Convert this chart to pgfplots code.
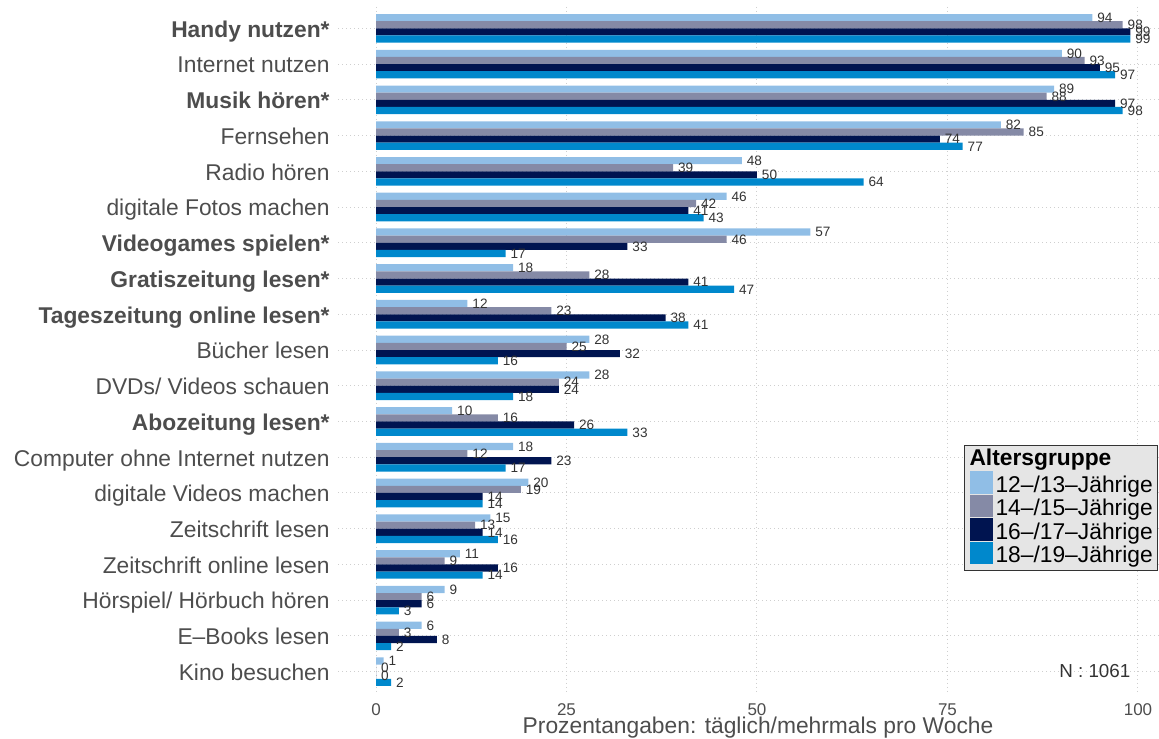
\documentclass[border=0pt]{standalone}
\usepackage{pgfplots}
\pgfplotsset{compat=1.18}
\usepackage{fontspec}
\setmainfont{Liberation Sans}
\definecolor{cA}{HTML}{90BEE6}
\definecolor{cB}{HTML}{858AA6}
\definecolor{cC}{HTML}{001450}
\definecolor{cD}{HTML}{0088CC}
\definecolor{txt}{HTML}{4D4D4D}
\definecolor{lab}{HTML}{333333}
\definecolor{gridc}{HTML}{CFCFCF}
\definecolor{legbg}{HTML}{E5E5E5}
\definecolor{legdraw}{HTML}{333333}
\begin{document}
\begin{tikzpicture}
\begin{axis}[
  at={(169pt,22.45pt)}, anchor=south west,
  scale only axis, width=410.5pt, height=343.1pt,
  xbar, bar shift=0pt, bar width=0.2,
  xmin=-4.987, xmax=102.76, ymin=-0.6, ymax=18.6, y dir=reverse,
  axis line style={draw=none},
  major tick length=0pt,
  xtick={0,25,50,75,100}, xticklabels={0,25,50,75,100},
  ytick={0,1,2,3,4,5,6,7,8,9,10,11,12,13,14,15,16,17,18},
  yticklabels={\textbf{Handy nutzen*}, Internet nutzen, \textbf{Musik hören*}, Fernsehen, Radio hören, digitale Fotos machen, \textbf{Videogames spielen*}, \textbf{Gratiszeitung lesen*}, \textbf{Tageszeitung online lesen*}, Bücher lesen, DVDs/ Videos schauen, \textbf{Abozeitung lesen*}, Computer ohne Internet nutzen, digitale Videos machen, Zeitschrift lesen, Zeitschrift online lesen, Hörspiel/ Hörbuch hören, E–Books lesen, Kino besuchen},
  grid=major,
  grid style={gridc, line width=0.5pt, dash pattern=on 0.5pt off 1.5pt},
  xticklabel style={font=\fontsize{8.5pt}{10pt}\selectfont, text=txt, anchor=base, inner sep=0pt, yshift=-10.95pt},
  yticklabel style={font=\fontsize{11.4pt}{13pt}\selectfont, text=txt, anchor=base east, inner sep=0pt, xshift=-4pt, yshift=-4.4pt},
  xlabel={Prozentangaben: täglich/mehrmals pro Woche},
  xlabel style={font=\fontsize{11.4pt}{13pt}\selectfont, text=txt, at={(axis description cs:0.5116,0)}, anchor=base, inner sep=0pt, yshift=-19.95pt},
  point meta=x,
  nodes near coords,
  nodes near coords style={font=\fontsize{6.8pt}{8pt}\selectfont, text=lab, anchor=base west, inner sep=0pt, xshift=2.3pt, yshift=-2.4pt},
  /pgf/number format/assume math mode=true,
  /pgf/number format/fixed,
  /pgf/number format/precision=0,
  clip=false,
  legend style={at={(axis description cs:0.7625,0.3616)}, anchor=north west,
    fill=legbg, draw=legdraw, line width=0.5pt,
    inner xsep=2.5pt, inner ysep=0.5pt, column sep=1.3pt, row sep=0pt,
    cells={anchor=base west},
    font=\fontsize{11.4pt}{13pt}\selectfont, text=black,
    nodes={inner sep=0pt, text height=10.45pt, text depth=1.3pt}},
]
\addlegendimage{empty legend}
\addlegendentry[text height=9.5pt, text depth=2.9pt]{\hspace*{-13pt}\textbf{Altersgruppe}}
\addplot[fill=cA, draw=none, legend image code/.code={\fill[cA] (0pt,-0.8pt) rectangle (11.7pt,10.45pt);}] coordinates {
(94,-0.3) (90,0.7) (89,1.7) (82,2.7) (48,3.7) (46,4.7) (57,5.7) (18,6.7) (12,7.7) (28,8.7) (28,9.7) (10,10.7) (18,11.7) (20,12.7) (15,13.7) (11,14.7) (9,15.7) (6,16.7) (1,17.7)};
\addlegendentry{12–/13–Jährige}
\addplot[fill=cB, draw=none, legend image code/.code={\fill[cB] (0pt,-0.8pt) rectangle (11.7pt,10.45pt);}] coordinates {
(98,-0.1) (93,0.9) (88,1.9) (85,2.9) (39,3.9) (42,4.9) (46,5.9) (28,6.9) (23,7.9) (25,8.9) (24,9.9) (16,10.9) (12,11.9) (19,12.9) (13,13.9) (9,14.9) (6,15.9) (3,16.9) (0,17.9)};
\addlegendentry{14–/15–Jährige}
\addplot[fill=cC, draw=none, legend image code/.code={\fill[cC] (0pt,-0.8pt) rectangle (11.7pt,10.45pt);}] coordinates {
(99,0.1) (95,1.1) (97,2.1) (74,3.1) (50,4.1) (41,5.1) (33,6.1) (41,7.1) (38,8.1) (32,9.1) (24,10.1) (26,11.1) (23,12.1) (14,13.1) (14,14.1) (16,15.1) (6,16.1) (8,17.1) (0,18.1)};
\addlegendentry{16–/17–Jährige}
\addplot[fill=cD, draw=none, legend image code/.code={\fill[cD] (0pt,-0.8pt) rectangle (11.7pt,10.45pt);}] coordinates {
(99,0.3) (97,1.3) (98,2.3) (77,3.3) (64,4.3) (43,5.3) (17,6.3) (47,7.3) (41,8.3) (16,9.3) (18,10.3) (33,11.3) (17,12.3) (14,13.3) (16,14.3) (14,15.3) (3,16.3) (2,17.3) (2,18.3)};
\addlegendentry[text depth=3.5pt]{18–/19–Jährige}
\node[anchor=base east, inner sep=0pt, yshift=-3.15pt, font=\fontsize{9.4pt}{11pt}\selectfont, text=lab] at (axis cs:99.05,18) {N : 1061};
\end{axis}
\pgfresetboundingbox
\path[use as bounding box] (0,0) rectangle (579.5pt,369pt);
\end{tikzpicture}
\end{document}
